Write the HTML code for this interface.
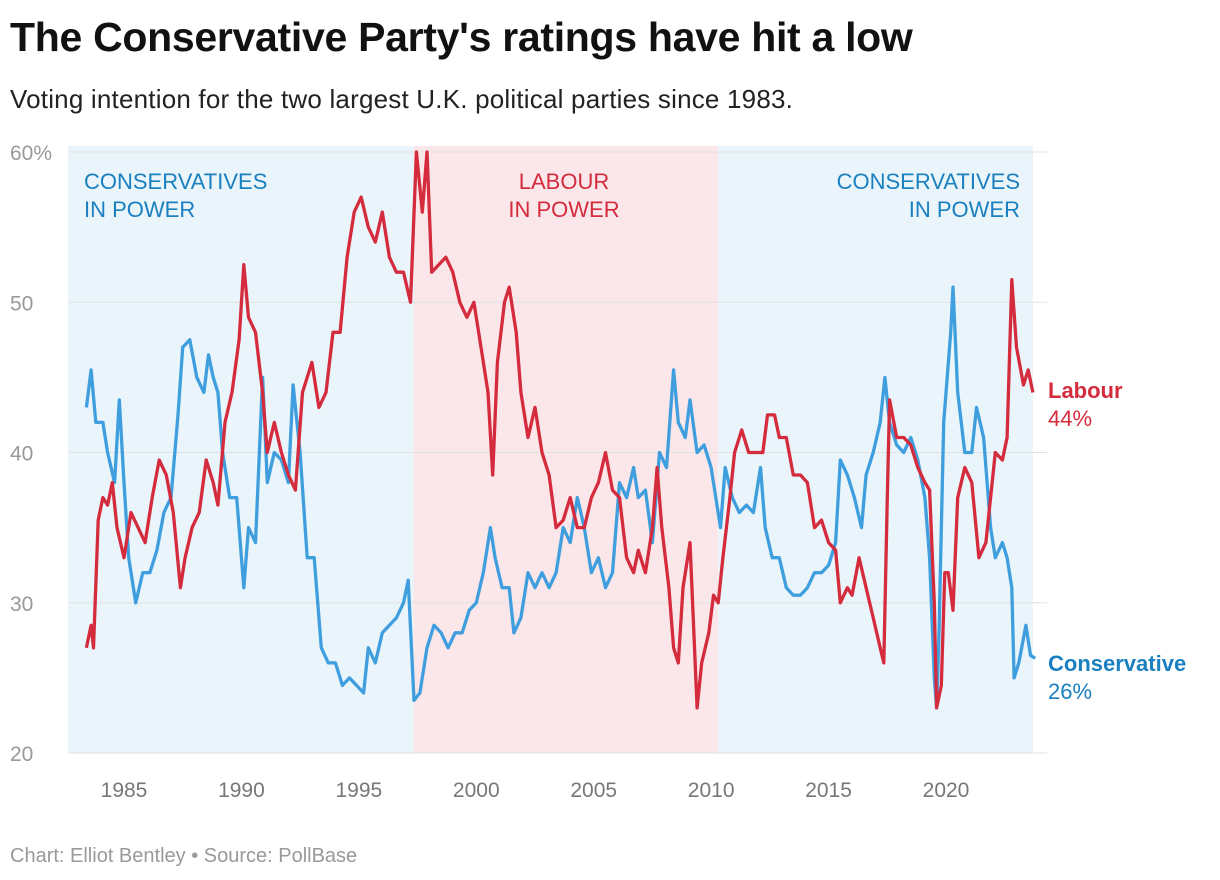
<!DOCTYPE html>
<html><head><meta charset="utf-8"><style>
body{margin:0;background:#fff;width:1220px;height:880px;overflow:hidden;font-family:"Liberation Sans",sans-serif}
#title{position:absolute;left:10px;top:14px;font-size:41px;font-weight:bold;color:#111;margin:0;letter-spacing:-0.3px}
#sub{position:absolute;left:10px;top:84px;font-size:26px;color:#222;letter-spacing:0.2px}
#foot{position:absolute;left:10px;top:845px;font-size:20px;color:#999}
svg{position:absolute;left:0;top:0}
</style></head><body>
<h1 id="title">The Conservative Party's ratings have hit a low</h1>
<div id="sub">Voting intention for the two largest U.K. political parties since 1983.</div>
<div id="foot">Chart: Elliot Bentley • Source: PollBase</div>
<svg id="chart" width="1220" height="880"></svg>
<script>
const yTicks=[20,30,40,50,60];
const xTicks=[1985,1990,1995,2000,2005,2010,2015,2020];
const periodStarts=[1982.6,1997.33,2010.3];
const periodEnds=[1997.33,2010.3,2023.9];
const periodParty=["con","lab","con"];
const labDates=[1983.4,1983.6,1983.7,1983.9,1984.1,1984.3,1984.5,1984.7,1985.0,1985.3,1985.6,1985.9,1986.2,1986.5,1986.8,1987.1,1987.4,1987.6,1987.9,1988.2,1988.5,1988.8,1989.0,1989.3,1989.6,1989.9,1990.1,1990.3,1990.6,1990.9,1991.1,1991.4,1991.7,1992.0,1992.3,1992.6,1992.8,1993.0,1993.3,1993.6,1993.9,1994.2,1994.5,1994.8,1995.1,1995.4,1995.7,1996.0,1996.3,1996.6,1996.9,1997.2,1997.45,1997.7,1997.9,1998.1,1998.4,1998.7,1999.0,1999.3,1999.6,1999.9,2000.2,2000.5,2000.7,2000.9,2001.2,2001.4,2001.7,2001.9,2002.2,2002.5,2002.8,2003.1,2003.4,2003.7,2004.0,2004.3,2004.6,2004.9,2005.2,2005.5,2005.8,2006.1,2006.4,2006.7,2006.9,2007.2,2007.5,2007.7,2007.9,2008.2,2008.4,2008.6,2008.8,2009.1,2009.4,2009.6,2009.9,2010.1,2010.3,2010.5,2010.8,2011.0,2011.3,2011.6,2011.9,2012.2,2012.4,2012.7,2012.9,2013.2,2013.5,2013.8,2014.1,2014.4,2014.7,2015.0,2015.3,2015.5,2015.8,2016.0,2016.3,2016.6,2016.9,2017.2,2017.35,2017.5,2017.6,2017.9,2018.2,2018.5,2018.8,2019.1,2019.3,2019.5,2019.6,2019.8,2019.95,2020.1,2020.3,2020.5,2020.8,2021.1,2021.4,2021.7,2021.9,2022.1,2022.4,2022.6,2022.8,2023.0,2023.3,2023.5,2023.7];
const labValues=[27,28.5,27,35.5,37,36.5,38,35,33,36,35,34,37,39.5,38.5,36,31,33,35,36,39.5,38,36.5,42,44,47.5,52.5,49,48,44,40,42,40,38.5,37.5,44,45,46,43,44,48,48,53,56,57,55,54,56,53,52,52,50,60,56,60,52,52.5,53,52,50,49,50,47,44,38.5,46,50,51,48,44,41,43,40,38.5,35,35.5,37,35,35,37,38,40,37.5,37,33,32,33.5,32,35,39,35,31,27,26,31,34,23,26,28,30.5,30,33,37,40,41.5,40,40,40,42.5,42.5,41,41,38.5,38.5,38,35,35.5,34,33.5,30,31,30.5,33,31,29,27,26,37,43.5,41,41,40.5,39,38,37.5,30,23,24.5,32,32,29.5,37,39,38,33,34,37,40,39.5,41,51.5,47,44.5,45.5,44];
const conDates=[1983.4,1983.6,1983.8,1984.1,1984.3,1984.6,1984.8,1985.0,1985.2,1985.5,1985.8,1986.1,1986.4,1986.7,1987.0,1987.3,1987.5,1987.8,1988.1,1988.4,1988.6,1988.8,1989.0,1989.2,1989.5,1989.8,1990.1,1990.3,1990.6,1990.9,1991.1,1991.4,1991.7,1992.0,1992.2,1992.5,1992.8,1993.1,1993.4,1993.7,1994.0,1994.3,1994.6,1994.9,1995.2,1995.4,1995.7,1996.0,1996.3,1996.6,1996.9,1997.1,1997.35,1997.6,1997.9,1998.2,1998.5,1998.8,1999.1,1999.4,1999.7,2000.0,2000.3,2000.6,2000.8,2001.1,2001.4,2001.6,2001.9,2002.2,2002.5,2002.8,2003.1,2003.4,2003.7,2004.0,2004.3,2004.6,2004.9,2005.2,2005.5,2005.8,2006.1,2006.4,2006.7,2006.9,2007.2,2007.5,2007.8,2008.1,2008.4,2008.6,2008.9,2009.1,2009.4,2009.7,2010.0,2010.2,2010.4,2010.6,2010.9,2011.2,2011.5,2011.8,2012.1,2012.3,2012.6,2012.9,2013.2,2013.5,2013.8,2014.1,2014.4,2014.7,2015.0,2015.3,2015.5,2015.8,2016.1,2016.4,2016.6,2016.9,2017.2,2017.4,2017.6,2017.9,2018.2,2018.5,2018.8,2019.1,2019.3,2019.5,2019.6,2019.7,2019.9,2020.2,2020.3,2020.5,2020.8,2021.1,2021.3,2021.6,2021.9,2022.1,2022.4,2022.6,2022.8,2022.9,2023.1,2023.4,2023.6,2023.8];
const conValues=[43,45.5,42,42,40,38,43.5,38,33,30,32,32,33.5,36,37,42.5,47,47.5,45,44,46.5,45,44,40,37,37,31,35,34,45,38,40,39.5,38,44.5,40,33,33,27,26,26,24.5,25,24.5,24,27,26,28,28.5,29,30,31.5,23.5,24,27,28.5,28,27,28,28,29.5,30,32,35,33,31,31,28,29,32,31,32,31,32,35,34,37,35,32,33,31,32,38,37,39,37,37.5,34,40,39,45.5,42,41,43.5,40,40.5,39,37,35,39,37,36,36.5,36,39,35,33,33,31,30.5,30.5,31,32,32,32.5,34,39.5,38.5,37,35,38.5,40,42,45,42,40.5,40,41,39.5,37,33,25,23,28,42,48,51,44,40,40,43,41,35,33,34,33,31,25,26,28.5,26.5,26.3];

const svg=document.getElementById('chart');const NS='http://www.w3.org/2000/svg';
const X0=68,X1=1033,Y0=753,Y1=152;
const xs=yr=>124+(yr-1985)*(822/35);
const ys=v=>Y0-(v-20)*(Y0-Y1)/40;
function mk(t,a,p){const e=document.createElementNS(NS,t);for(const k in a)e.setAttribute(k,a[k]);(p||svg).appendChild(e);return e;}
periodStarts.forEach((s,i)=>{
  const r=mk('rect',{x:Math.max(X0,xs(s)),y:Y1-6,width:Math.min(X1,xs(periodEnds[i]))-Math.max(X0,xs(s)),height:Y0-Y1+6,fill:periodParty[i]=='con'?'#eaf4fb':'#fbe7ea'});
  
  
});
yTicks.forEach(v=>{
  const l=mk('line',{x1:X0,x2:1047,y1:ys(v),y2:ys(v),stroke:'#e2e2e2','stroke-width':1});
  
  
  const t=mk('text',{x:10,y:ys(v)+8,'font-size':21,fill:'#999','font-family':'Liberation Sans'});
  t.textContent=v==60?'60%':v;
  
  
});
xTicks.forEach(yr=>{
  const t=mk('text',{x:xs(yr),y:797,'font-size':21,fill:'#777','text-anchor':'middle','font-family':'Liberation Sans'});
  t.textContent=yr;
  
  
});
function line(d,v,c,n){const p=mk('path',{d:d.map((x,i)=>(i?'L':'M')+xs(x).toFixed(1)+','+ys(v[i]).toFixed(1)).join(''),fill:'none',stroke:c,'stroke-width':3.3,'stroke-linejoin':'round'});
  
  }
line(conDates,conValues,'#3f9ede','conservative-line');
line(labDates,labValues,'#d42b3d','labour-line');
function txt(x,y,s,c,a,n,b){const t=mk('text',{x,y,'font-size':22,fill:c,'text-anchor':a,'font-family':'Liberation Sans','font-weight':b?'bold':'normal'});t.textContent=s;
  
  }
txt(84,189,'CONSERVATIVES','#1a80c0','start','con-power-label-1');
txt(84,217,'IN POWER','#1a80c0','start','con-power-label-1b');
txt(564,189,'LABOUR','#d42b3d','middle','lab-power-label');
txt(564,217,'IN POWER','#d42b3d','middle','lab-power-label-b');
txt(1020,189,'CONSERVATIVES','#1a80c0','end','con-power-label-2');
txt(1020,217,'IN POWER','#1a80c0','end','con-power-label-2b');
txt(1048,398,'Labour','#d42b3d','start','labour-end-label',true);
txt(1048,426,'44%','#d42b3d','start','labour-end-value');
txt(1048,671,'Conservative','#1a80c0','start','conservative-end-label',true);
txt(1048,699,'26%','#1a80c0','start','conservative-end-value');
</script>
</body></html>
